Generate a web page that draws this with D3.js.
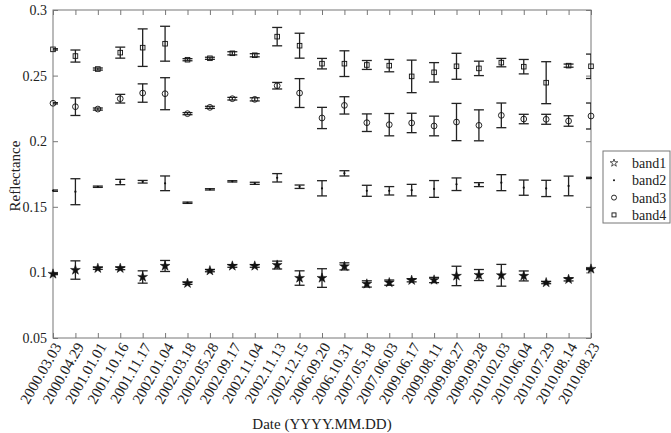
<!DOCTYPE html>
<html>
<head>
<meta charset="utf-8">
<script src="https://cdn.jsdelivr.net/npm/d3@7"></script>
<style>
  body { margin: 0; background: #fff; }
  .axis path { display: none; }
  .axis line { stroke: #777; }
</style>
</head>
<body>
<svg id="chart" width="671" height="433"></svg>
<script>
// dates of the acquisitions
var dates = ["2000.03.03", "2000.04.29", "2001.01.01", "2001.10.16", "2001.11.17", "2002.01.04",
   "2002.03.18", "2002.05.28", "2002.09.17", "2002.11.04", "2002.11.13", "2002.12.15",
   "2006.09.20", "2006.10.31", "2007.05.18", "2007.06.03", "2009.06.17", "2009.08.11",
   "2009.08.27", "2009.09.28", "2010.02.03", "2010.06.04", "2010.07.29", "2010.08.14", "2010.08.23"];

var band1 = [0.0988, 0.1018, 0.1031, 0.1031, 0.0965, 0.1049, 0.0917, 0.1013, 0.1049, 0.1049, 0.1056, 0.0957, 0.0957,
   0.1046, 0.0912, 0.0922, 0.0940, 0.0942, 0.0973, 0.0980, 0.0978, 0.0973, 0.0922, 0.0947, 0.1026];
var band1Err = [0.0005, 0.0070, 0.0008, 0.0010, 0.0047, 0.0042, 0.0008, 0.0008, 0.0010, 0.0010, 0.0030, 0.0055, 0.0071,
   0.0027, 0.0024, 0.0020, 0.0012, 0.0020, 0.0074, 0.0042, 0.0083, 0.0038, 0.0008, 0.0012, 0.0005];

var band2 = [0.1623, 0.1615, 0.1653, 0.1689, 0.1691, 0.1679, 0.1531, 0.1633, 0.1694, 0.1679, 0.1721, 0.1653, 0.1641,
   0.1755, 0.1622, 0.1622, 0.1627, 0.1636, 0.1672, 0.1669, 0.1684, 0.1646, 0.1640, 0.1659, 0.1720];
var band2Err = [0.0005, 0.0099, 0.0005, 0.0020, 0.0010, 0.0056, 0.0005, 0.0005, 0.0005, 0.0008, 0.0032, 0.0013, 0.0058,
   0.0020, 0.0042, 0.0032, 0.0044, 0.0064, 0.0048, 0.0015, 0.0061, 0.0058, 0.0062, 0.0075, 0.0005];

var band3 = [0.2289, 0.2263, 0.2245, 0.2324, 0.2367, 0.2362, 0.2210, 0.2258, 0.2324, 0.2319, 0.2423, 0.2367, 0.2177,
   0.2273, 0.2141, 0.2126, 0.2139, 0.2116, 0.2146, 0.2121, 0.2197, 0.2169, 0.2167, 0.2154, 0.2192];
var band3Err = [0.0005, 0.0067, 0.0008, 0.0033, 0.0070, 0.0122, 0.0008, 0.0008, 0.0010, 0.0012, 0.0025, 0.0110, 0.0081,
   0.0066, 0.0067, 0.0085, 0.0074, 0.0075, 0.0142, 0.0118, 0.0094, 0.0036, 0.0038, 0.0040, 0.0099];

var band4 = [0.2700, 0.2649, 0.2550, 0.2675, 0.2713, 0.2743, 0.2621, 0.2632, 0.2670, 0.2655, 0.2797, 0.2728, 0.2591,
   0.2591, 0.2581, 0.2576, 0.2494, 0.2525, 0.2571, 0.2555, 0.2599, 0.2568, 0.2446, 0.2576, 0.2571];
var band4Err = [0.0005, 0.0046, 0.0008, 0.0042, 0.0143, 0.0133, 0.0008, 0.0008, 0.0012, 0.0012, 0.0070, 0.0095, 0.0040,
   0.0098, 0.0034, 0.0047, 0.0124, 0.0074, 0.0099, 0.0055, 0.0032, 0.0055, 0.0160, 0.0012, 0.0093];

var bandNames = ["band1", "band2", "band3", "band4"];
var yTicks = [0.05, 0.1, 0.15, 0.2, 0.25, 0.3];

var FONT = "'Liberation Serif', 'Times New Roman', serif";

var svg = d3.select("#chart"),
   margin = {top: 10, right: 80, bottom: 95, left: 53},
   width = +svg.attr("width") - margin.left - margin.right,
   height = +svg.attr("height") - margin.top - margin.bottom,
   g = svg.append("g").attr("transform", "translate(" + margin.left + "," + margin.top + ")");

var x = d3.scalePoint()
      .domain(dates)
      .range([0, width]);

var y = d3.scaleLinear()
      .domain([0.05, 0.3])
      .range([height, 0]);

// axes, ticks pointing inward
g.append("g")
 .attr("class", "axis")
 .attr("transform", "translate(0," + height + ")")
 .call(d3.axisBottom(x).tickSize(-5).tickPadding(4))
 .attr("font-family", FONT)
 .attr("font-size", 15)
 .selectAll("text")
 .attr("fill", "#222")
 .attr("text-anchor", "end")
 .attr("transform", "translate(4,6) rotate(-60)")
 .attr("dy", "0.35em")
 .attr("y", 0)
 .attr("x", 0);

g.append("g")
 .attr("class", "axis")
 .call(d3.axisTop(x).tickSize(-5).tickFormat(""));

g.append("g")
 .attr("class", "axis")
 .call(d3.axisLeft(y).tickValues(yTicks).tickSize(-5).tickPadding(6).tickFormat(d3.format("")))
 .attr("font-family", FONT)
 .attr("font-size", 14)
 .selectAll("text")
 .attr("fill", "#222");

g.append("g")
 .attr("class", "axis")
 .attr("transform", "translate(" + width + ",0)")
 .call(d3.axisRight(y).tickValues(yTicks).tickSize(-5).tickFormat(""));

g.append("rect")
 .attr("width", width)
 .attr("height", height)
 .attr("fill", "none")
 .attr("stroke", "#777")
 .attr("stroke-width", 1);

g.append("defs").append("clipPath")
 .attr("id", "clip")
 .append("rect")
 .attr("width", width)
 .attr("height", height);

var series = [
   {name: "band1", values: band1, err: band1Err},
   {name: "band2", values: band2, err: band2Err},
   {name: "band3", values: band3, err: band3Err},
   {name: "band4", values: band4, err: band4Err}
];

// error bars
var bars = g.append("g").attr("clip-path", "url(#clip)");
series.forEach(function (s) {
   var pts = dates.map(function (d, i) { return {d: d, v: s.values[i], e: s.err[i]}; });
   var eb = bars.append("g").selectAll("g")
      .data(pts)
      .enter().append("g")
      .attr("stroke", "#222")
      .attr("stroke-width", 1.3);
   eb.append("line")
     .attr("x1", function (p) { return x(p.d); })
     .attr("x2", function (p) { return x(p.d); })
     .attr("y1", function (p) { return y(p.v - p.e); })
     .attr("y2", function (p) { return y(p.v + p.e); });
   [-1, 1].forEach(function (sgn) {
      eb.append("line")
        .attr("x1", function (p) { return x(p.d) - 5; })
        .attr("x2", function (p) { return x(p.d) + 5; })
        .attr("y1", function (p) { return y(p.v + sgn * p.e); })
        .attr("y2", function (p) { return y(p.v + sgn * p.e); });
   });
});

// markers
function drawMarker(sel, name, small) {
   if (name === "band1") {
      sel.append("path")
         .attr("d", d3.symbol().type(d3.symbolStar).size(small ? 18 : 30))
         .attr("fill", small ? "none" : "#111")
         .attr("stroke", "#111")
         .attr("stroke-width", small ? 0.7 : 0.5);
   } else if (name === "band2") {
      sel.append("circle").attr("r", small ? 1 : 1.1).attr("fill", "#111");
   } else if (name === "band3") {
      sel.append("circle")
         .attr("r", small ? 2.5 : 2.9)
         .attr("fill", "none")
         .attr("stroke", "#111")
         .attr("stroke-width", 0.9);
   } else {
      var h = small ? 2 : 2.3;
      sel.append("rect")
         .attr("x", -h).attr("y", -h)
         .attr("width", 2 * h).attr("height", 2 * h)
         .attr("fill", "none")
         .attr("stroke", "#111")
         .attr("stroke-width", 0.9);
   }
}

series.forEach(function (s) {
   g.append("g").selectAll("g")
    .data(s.values)
    .enter().append("g")
    .attr("transform", function (v, i) { return "translate(" + x(dates[i]) + "," + y(v) + ")"; })
    .each(function () { drawMarker(d3.select(this), s.name, false); });
});

// axis titles
svg.append("text")
   .attr("transform", "translate(20," + (margin.top + height / 2 + 2) + ") rotate(-90)")
   .attr("text-anchor", "middle")
   .attr("font-family", FONT)
   .attr("font-size", 15)
   .attr("fill", "#222")
   .text("Reflectance");

svg.append("text")
   .attr("x", margin.left + width / 2)
   .attr("y", 429)
   .attr("text-anchor", "middle")
   .attr("font-family", FONT)
   .attr("font-size", 15)
   .attr("fill", "#222")
   .text("Date (YYYY.MM.DD)");

// legend
var legend = svg.append("g").attr("transform", "translate(603,151)");
legend.append("rect")
   .attr("width", 67)
   .attr("height", 72)
   .attr("fill", "#fff")
   .attr("stroke", "#777");

var item = legend.selectAll(".item")
   .data(bandNames)
   .enter().append("g")
   .attr("class", "item")
   .attr("transform", function (d, i) { return "translate(0," + (12 + i * 17.3) + ")"; });

item.each(function (d) {
   var m = d3.select(this).append("g").attr("transform", "translate(11,0)");
   drawMarker(m, d, true);
});

item.append("text")
   .attr("x", 29)
   .attr("dy", "0.35em")
   .attr("font-family", FONT)
   .attr("font-size", 14)
   .attr("fill", "#222")
   .text(function (d) { return d; });
</script>
</body>
</html>
